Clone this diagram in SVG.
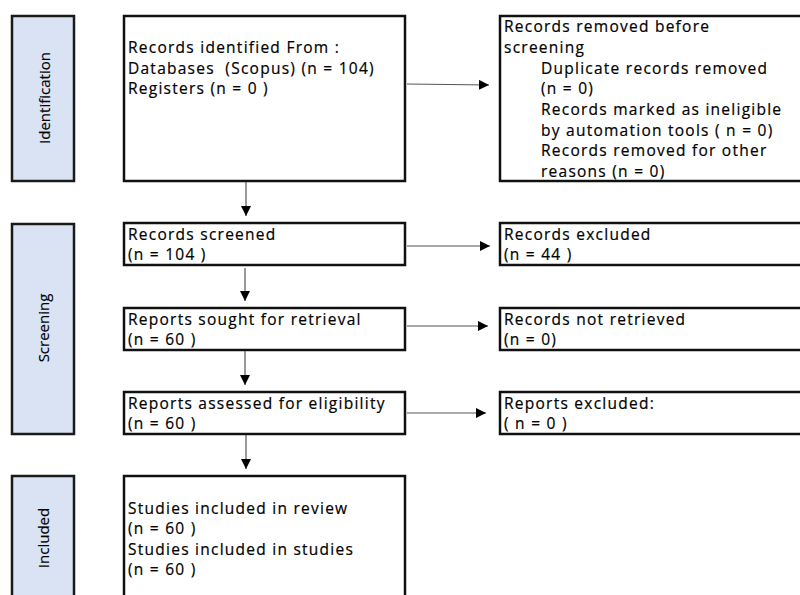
<svg xmlns="http://www.w3.org/2000/svg" width="800" height="595" viewBox="0 0 800 595">
<style>
.side{fill:#dae3f3;stroke:#1a1a1a;stroke-width:2.5}
.box{fill:#fff;stroke:#111;stroke-width:2.5}
.t{font-family:"Open Sans","Liberation Sans",sans-serif;font-size:15.5px;letter-spacing:1.25px;fill:#000;stroke:#000;stroke-width:0.2}
.s{font-family:"Open Sans","Liberation Sans",sans-serif;font-size:15px;fill:#000;stroke:#000;stroke-width:0.15}
.c{stroke:#555;stroke-width:1.2;fill:none;marker-end:url(#ah)}
</style>
<defs>
<marker id="ah" viewBox="0 0 10 10" refX="10" refY="5" markerWidth="10" markerHeight="10" markerUnits="userSpaceOnUse" orient="auto">
<path d="M0,0 L10,5 L0,10 z" fill="#000"/>
</marker>
</defs>
<rect width="800" height="595" fill="#fff"/>
<g id="side-identification"><rect class="side" x="12" y="16" width="62" height="165"/><text class="s" transform="translate(50,98) rotate(-90)" text-anchor="middle">Identification</text></g>
<g id="side-screening"><rect class="side" x="12" y="224" width="62" height="210"/><text class="s" transform="translate(49,328) rotate(-90)" text-anchor="middle">Screening</text></g>
<g id="side-included"><rect class="side" x="12" y="476" width="62" height="130"/><text class="s" transform="translate(49,538) rotate(-90)" text-anchor="middle">Included</text></g>
<g id="identified"><rect class="box" x="124" y="16" width="281" height="165"/>
<text class="t" x="128" y="53">Records identified From :</text>
<text class="t" x="128" y="74" xml:space="preserve">Databases  (Scopus) (n = 104)</text>
<text class="t" x="128" y="94">Registers (n = 0 )</text></g>
<g id="removed"><rect class="box" x="500" y="16" width="310" height="165"/>
<text class="t" x="504" y="32">Records removed before</text>
<text class="t" x="504" y="53">screening</text>
<text class="t" x="541" y="74">Duplicate records removed</text>
<text class="t" x="541" y="94">(n = 0)</text>
<text class="t" x="541" y="115">Records marked as ineligible</text>
<text class="t" x="541" y="136">by automation tools ( n = 0)</text>
<text class="t" x="541" y="156">Records removed for other</text>
<text class="t" x="541" y="177">reasons (n = 0)</text></g>
<g id="screened"><rect class="box" x="124" y="223" width="281" height="42"/>
<text class="t" x="128" y="240">Records screened</text>
<text class="t" x="128" y="260">(n = 104 )</text></g>
<g id="excluded"><rect class="box" x="500" y="223" width="310" height="42"/>
<text class="t" x="504" y="240">Records excluded</text>
<text class="t" x="504" y="260">(n = 44 )</text></g>
<g id="sought"><rect class="box" x="124" y="308" width="281" height="42"/>
<text class="t" x="128" y="325">Reports sought for retrieval</text>
<text class="t" x="128" y="345">(n = 60 )</text></g>
<g id="notretrieved"><rect class="box" x="500" y="308" width="310" height="42"/>
<text class="t" x="504" y="325">Records not retrieved</text>
<text class="t" x="504" y="345">(n = 0)</text></g>
<g id="assessed"><rect class="box" x="124" y="392" width="281" height="42"/>
<text class="t" x="128" y="409">Reports assessed for eligibility</text>
<text class="t" x="128" y="429">(n = 60 )</text></g>
<g id="reportsexcluded"><rect class="box" x="500" y="392" width="310" height="42"/>
<text class="t" x="504" y="409">Reports excluded:</text>
<text class="t" x="504" y="429">( n = 0 )</text></g>
<g id="included"><rect class="box" x="124" y="476" width="281" height="130"/>
<text class="t" x="128" y="514">Studies included in review</text>
<text class="t" x="128" y="534">(n = 60 )</text>
<text class="t" x="128" y="555">Studies included in studies</text>
<text class="t" x="128" y="575">(n = 60 )</text></g>
<g id="connectors">
<line class="c" x1="407" y1="84" x2="489" y2="85"/>
<line class="c" x1="246" y1="182" x2="246" y2="216"/>
<line class="c" x1="407" y1="246" x2="490" y2="246"/>
<line class="c" x1="245" y1="268" x2="245" y2="301"/>
<line class="c" x1="407" y1="326" x2="488" y2="326"/>
<line class="c" x1="245" y1="351" x2="245" y2="385"/>
<line class="c" x1="407" y1="413" x2="486" y2="413"/>
<line class="c" x1="246" y1="435" x2="246" y2="469"/>
</g>
</svg>
